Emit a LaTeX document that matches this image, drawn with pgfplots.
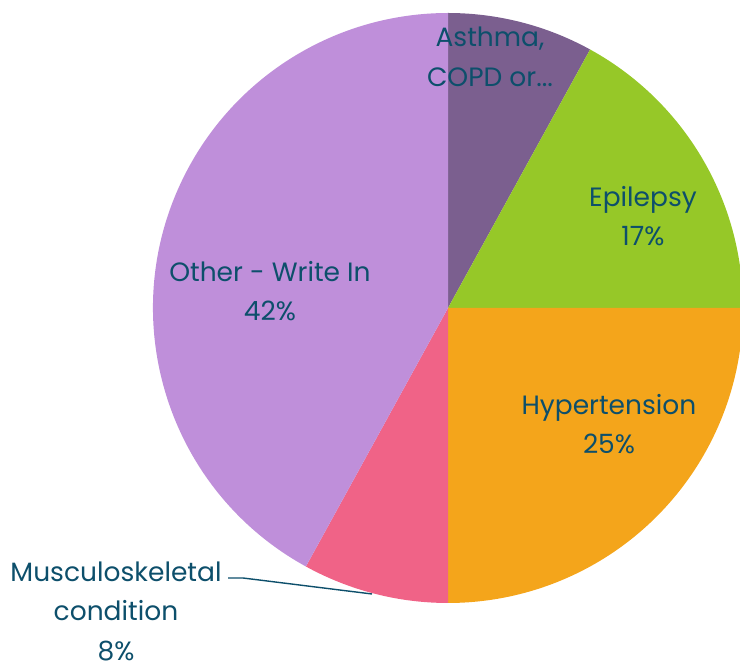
\documentclass[border=0pt]{standalone}
\usepackage{pgfplots}
\usepackage{pgfplotstable}
\pgfplotsset{compat=1.18}
\usepackage{fontspec}
\setmainfont{Poppins}

\definecolor{cAsthma}{HTML}{7B5F8F}
\definecolor{cEpi}{HTML}{96C828}
\definecolor{cHyp}{HTML}{F4A51B}
\definecolor{cMus}{HTML}{F06387}
\definecolor{cOth}{HTML}{BF8FDA}
\definecolor{labeltxt}{HTML}{0D4F6B}

% share of each condition (percent), clockwise from 12 o'clock
\pgfplotstableread[col sep=comma]{
name,value,colour
Asthma,8,cAsthma
Epilepsy,17,cEpi
Hypertension,25,cHyp
Musculoskeletal,8,cMus
Other,42,cOth
}\piedata

\begin{document}
\begin{tikzpicture}
\begin{axis}[
  x=1pt, y=1pt,
  xmin=0, xmax=740, ymin=0, ymax=661,
  scale only axis, hide axis,
]
\pgfplotsextra{
  \gdef\startang{90}
  \pgfplotstablegetrowsof{\piedata}
  \pgfmathtruncatemacro\lastrow{\pgfplotsretval-1}
  \foreach \i in {0,...,\lastrow} {
    \pgfplotstablegetelem{\i}{value}\of\piedata
    \let\val\pgfplotsretval
    \pgfplotstablegetelem{\i}{colour}\of\piedata
    \let\col\pgfplotsretval
    \pgfmathsetmacro\endang{\startang-3.6*\val}
    \fill[\col] (axis cs:448,353) -- ++(\startang:295pt)
      arc[start angle=\startang, end angle=\endang, radius=295pt] -- cycle;
    \global\let\startang\endang
  }
}
\begin{scope}[every node/.style={text=labeltxt, align=center,
    font=\fontsize{26.5}{39.5}\selectfont}]
\node at (axis cs:490,604) {Asthma,\\COPD or...};
\node at (axis cs:643,445) {Epilepsy\\17\%};
\node at (axis cs:609,237) {Hypertension\\25\%};
\node at (axis cs:270,370) {Other - Write In\\42\%};
\node at (axis cs:116,50) {Musculoskeletal\\condition\\8\%};
\end{scope}
\draw[labeltxt, line width=1.4pt] (axis cs:228,83) -- (axis cs:243,83) -- (axis cs:372,67);
\end{axis}
\pgfresetboundingbox
\path (current axis.south west) rectangle (current axis.north east);
\end{tikzpicture}
\end{document}
